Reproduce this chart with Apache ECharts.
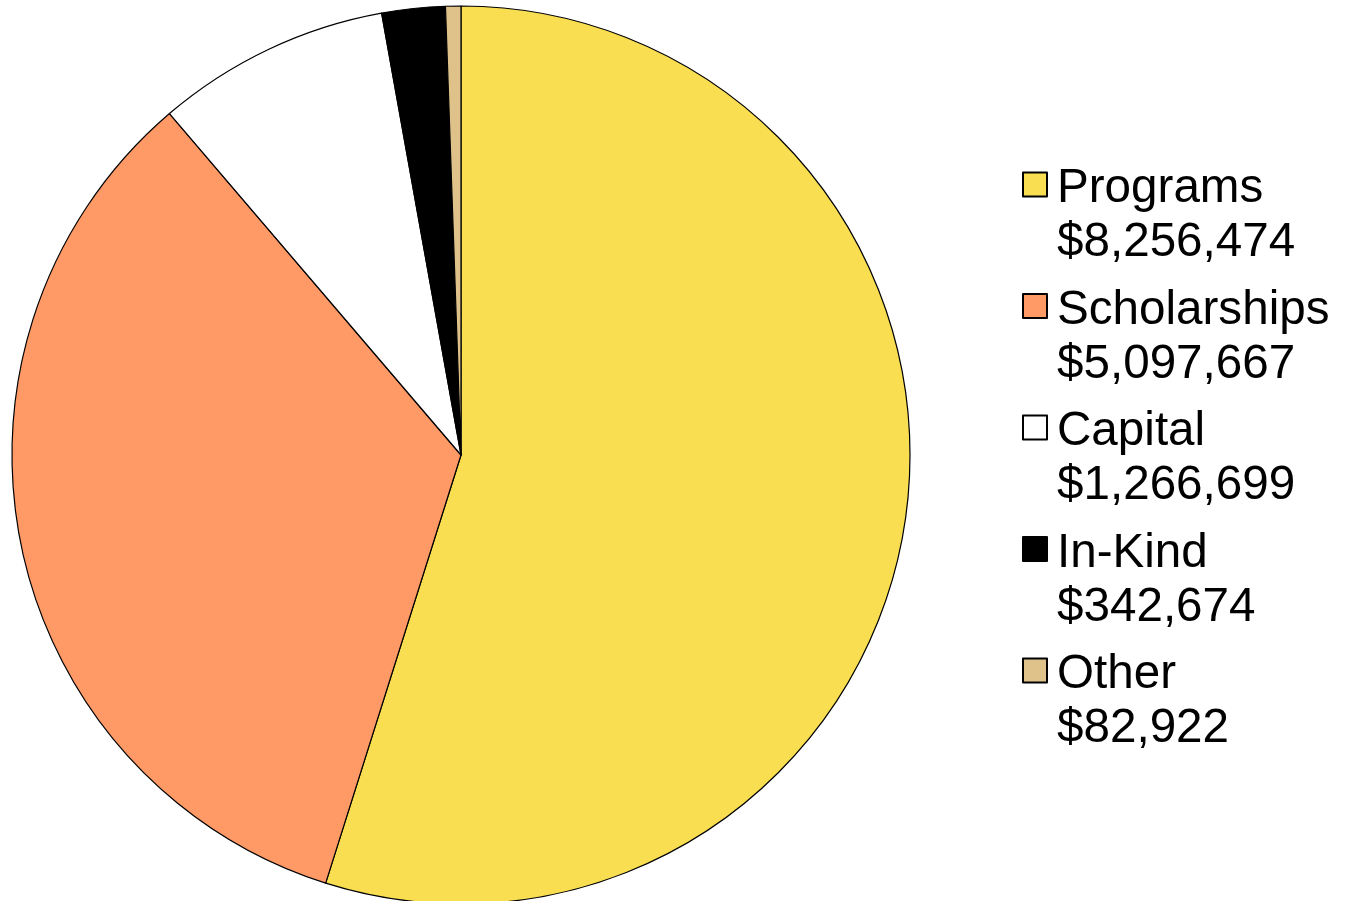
<!DOCTYPE html>
<html>
<head>
<meta charset="utf-8">
<script src="https://cdn.jsdelivr.net/npm/echarts@6/dist/echarts.min.js"></script>
<style>
html,body{margin:0;padding:0;background:#fff;}
#chart{width:1349px;height:901px;}
</style>
</head>
<body>
<div id="chart"></div>
<script>
const categories = ['Programs', 'Scholarships', 'Capital', 'In-Kind', 'Other'];
const values = [8256474, 5097667, 1266699, 342674, 82922];
const colors = ['#F9DE52', '#FF9966', '#FFFFFF', '#000000', '#DEC28A'];

function money(v) { return '$' + v.toLocaleString('en-US'); }

const chart = echarts.init(document.getElementById('chart'), null, {renderer: 'canvas'});
const data = categories.map((c, i) => ({
  name: c,
  value: values[i],
  itemStyle: {color: colors[i]}
}));

const FONT = '"Liberation Sans", Arial, sans-serif';

chart.setOption({
  animation: false,
  backgroundColor: '#ffffff',
  legend: {
    orient: 'vertical',
    left: 1022,
    top: 99,
    padding: 0,
    itemWidth: 24,
    itemHeight: 24,
    itemGap: -49.5,
    icon: 'rect',
    selectedMode: false,
    data: categories,
    formatter: function (name) {
      const i = categories.indexOf(name);
      return '{e|}\n{t|' + name + '}\n{t|' + money(values[i]) + '}';
    },
    textStyle: {
      fontFamily: FONT,
      fontSize: 47.6,
      lineHeight: 54,
      color: '#000',
      padding: [0, 0, 0, 5],
      rich: {
        e: {fontFamily: FONT, fontSize: 47.6, lineHeight: 63, height: 63},
        t: {fontFamily: FONT, fontSize: 47.6, lineHeight: 54, height: 54, color: '#000'}
      }
    }
  },
  series: [{
    type: 'pie',
    center: [461, 455],
    radius: 449,
    startAngle: 90,
    clockwise: true,
    label: {show: false},
    labelLine: {show: false},
    emphasis: {disabled: true},
    itemStyle: {borderColor: '#000', borderWidth: 1.2},
    data: data
  }]
});
</script>
</body>
</html>
